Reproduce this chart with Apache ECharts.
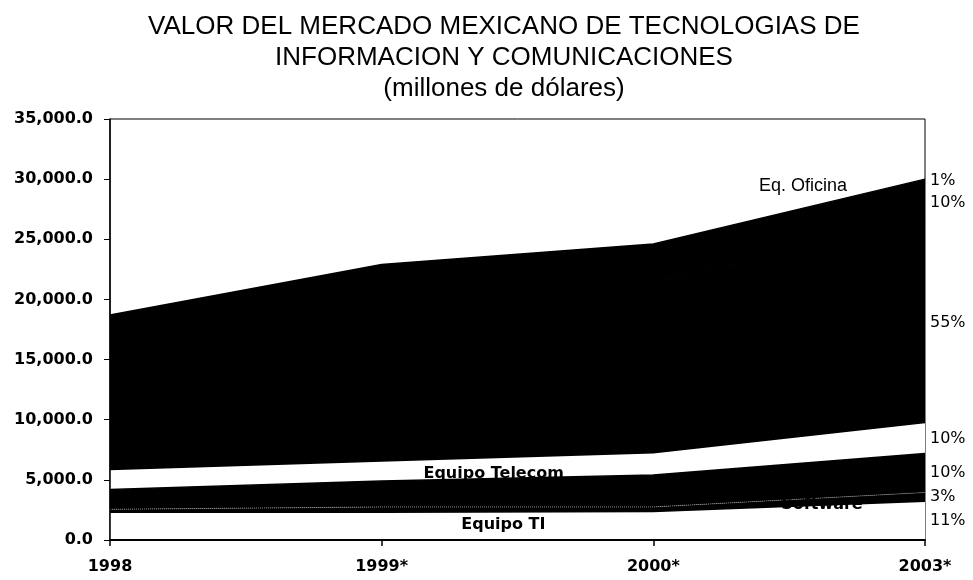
<!DOCTYPE html>
<html>
<head>
<meta charset="utf-8">
<script src="https://cdn.jsdelivr.net/npm/echarts@6/dist/echarts.min.js"></script>
<style>html,body{margin:0;padding:0;background:#fff}#c{width:973px;height:580px}</style>
</head>
<body>
<div id="c"></div>
<script>
// Categories (years)
var categories = ['1998', '1999*', '2000*', '2003*'];
// Series values (millones de dólares), bottom to top of the stack
var equipoTI = [2250, 2250, 2300, 3150];
var software = [300, 500, 450, 800];
var servicios = [1650, 2150, 2650, 3250];
var equipoTelecom = [1600, 1600, 1800, 2500];
var serviciosTelecom = [10600, 13500, 14300, 16700];
var otros = [2000, 2600, 2800, 3250];
var eqOficina = [300, 300, 300, 350];
// Shares in the last year (bottom to top)
var shares2003 = ['11%', '3%', '10%', '10%', '55%', '10%', '1%'];
// Y tick range
var yMin = 0, yMax = 35000, yStep = 5000;

var layers = [
  {name: 'Equipo TI', data: equipoTI, color: '#ffffff'},
  {name: 'Software', data: software, color: '#000000'},
  {name: 'Servicios', data: servicios, color: '#000000'},
  {name: 'Equipo Telecom', data: equipoTelecom, color: '#ffffff'},
  {name: 'Servicios Telecom', data: serviciosTelecom, color: '#000000'},
  {name: 'Otros', data: otros, color: '#000000'},
  {name: 'Eq. Oficina', data: eqOficina, color: '#000000'}
];

var last = categories.length - 1;
var series = layers.map(function (l, i) {
  var ls;
  if (i === 1) ls = {width: 1, type: 'dotted', color: '#8a8a8a'};
  else if (l.color === '#000000') ls = {width: 1.5, color: '#000'};
  else ls = {width: 0};
  return {
    name: l.name,
    type: 'line',
    stack: 'total',
    data: l.data,
    symbol: 'none',
    smooth: false,
    lineStyle: ls,
    areaStyle: {color: l.color, opacity: 1},
    itemStyle: {color: l.color},
    z: 2,
    silent: true
  };
});

// percentage labels at the middle of each band on the last year
var cum = 0, pctData = [];
layers.forEach(function (l, i) {
  var v = l.data[last];
  pctData.push({value: [categories[last], cum + v / 2], name: shares2003[i]});
  cum += v;
});
series.push({
  type: 'scatter',
  symbolSize: 0,
  data: pctData,
  z: 5,
  itemStyle: {opacity: 1},
  label: {
    show: true, position: 'right', distance: 5,
    formatter: function (p) { return p.name; },
    color: '#000', fontSize: 16, fontFamily: 'DejaVu Sans'
  }
});

// helper: stacked top / middle of layer k at category j
function topOf(k, j) { var s = 0; for (var i = 0; i <= k; i++) s += layers[i].data[j]; return s; }
function midOf(k, j) { return topOf(k, j) - layers[k].data[j] / 2; }

series.push({
  type: 'scatter',
  symbolSize: 0,
  z: 6,
  itemStyle: {opacity: 1},
  data: [
    {value: [categories[3], topOf(6, 3)], name: 'Eq. Oficina', label: {offset: [-122, 7], fontWeight: 'normal', fontFamily: 'Liberation Sans', fontSize: 18}},
    {value: [categories[1], midOf(3, 1)], name: 'Equipo Telecom', label: {offset: [112, 2]}},
    {value: [categories[2], midOf(0, 2)], name: 'Equipo TI', label: {offset: [-150, -1]}},
    {value: [categories[3], midOf(1, 3)], name: 'Software', label: {offset: [-103, 8]}}
  ],
  label: {
    show: true, position: 'inside',
    formatter: function (p) { return p.name; },
    color: '#000', fontSize: 16, fontWeight: 'bold', fontFamily: 'DejaVu Sans'
  }
});

var chart = echarts.init(document.getElementById('c'), null, {renderer: 'canvas'});
chart.setOption({
  backgroundColor: '#fff',
  animation: false,
  title: {
    text: 'VALOR DEL MERCADO MEXICANO DE TECNOLOGIAS DE\nINFORMACION Y COMUNICACIONES\n(millones de dólares)',
    left: 499, top: 6, textAlign: 'center',
    textStyle: {fontSize: 26, fontWeight: 'normal', color: '#000', lineHeight: 31, fontFamily: 'Liberation Sans'}
  },
  grid: {left: 110, right: 48, top: 119, bottom: 40, show: true, borderColor: '#000', borderWidth: 1, backgroundColor: 'transparent'},
  xAxis: {
    type: 'category', data: categories, boundaryGap: false,
    axisLine: {lineStyle: {color: '#000', width: 2}},
    axisTick: {show: true, alignWithLabel: true, length: 6, lineStyle: {color: '#000', width: 1.5}},
    axisLabel: {color: '#000', fontSize: 16, fontWeight: 'bold', margin: 19, fontFamily: 'DejaVu Sans'},
    splitLine: {show: false},
    z: 10
  },
  yAxis: {
    type: 'value', min: yMin, max: yMax, interval: yStep,
    axisLine: {show: true, lineStyle: {color: '#000', width: 1.5}},
    axisTick: {show: true, length: 6, inside: false, lineStyle: {color: '#000'}},
    axisLabel: {color: '#000', fontSize: 16, fontWeight: 'bold', margin: 17, fontFamily: 'DejaVu Sans',
      formatter: function (v) { return v.toLocaleString('en-US', {minimumFractionDigits: 1, maximumFractionDigits: 1}); }},
    splitLine: {show: false},
    z: 10
  },
  series: series
});
</script>
</body>
</html>
